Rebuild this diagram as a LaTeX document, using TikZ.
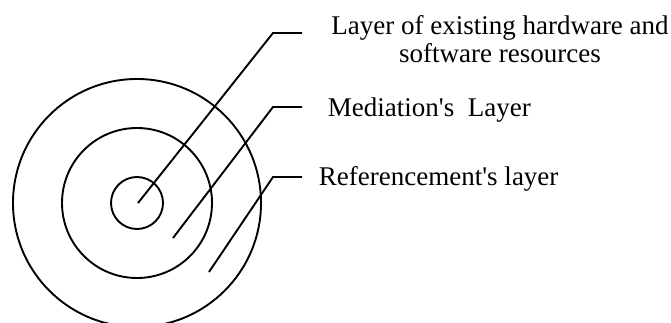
\documentclass[tikz,border=0pt]{standalone}
\usepackage{fontspec}
\setmainfont{Liberation Serif}
\usetikzlibrary{positioning}

\begin{document}
\begin{tikzpicture}[x=1pt, y=-1pt, line width=1.9pt, every node/.style={font=\fontsize{27}{28}\selectfont, inner sep=0pt}]
    \useasboundingbox (0,0) rectangle (671,323);
    % the three layers
    \coordinate (centre) at (137,203);
    \draw (centre) circle[radius=124pt];
    \draw (centre) circle[radius=75pt];
    \draw (centre) circle[radius=26pt];

    % labels
    \node[anchor=base, align=center] (hw) at (500,63) {Layer of existing hardware and\\software resources};
    \node[anchor=base west] (med) at (327,117) {Mediation\textquotesingle s\ \ Layer};
    \node[anchor=base west] (ref) at (318,185) {Referencement\textquotesingle s layer};

    % leaders
    \coordinate (hw tip) at (138,203);
    \coordinate (hw bend) at (273,33);
    \coordinate (hw end) at (302,33);
    \coordinate (med tip) at (173,238);
    \coordinate (med bend) at (273,107);
    \coordinate (med end) at (302,107);
    \coordinate (ref tip) at (209,272);
    \coordinate (ref bend) at (273,177);
    \coordinate (ref end) at (302,177);
    \draw (hw tip) -- (hw bend) -- (hw end);
    \draw (med tip) -- (med bend) -- (med end);
    \draw (ref tip) -- (ref bend) -- (ref end);
\end{tikzpicture}
\end{document}
